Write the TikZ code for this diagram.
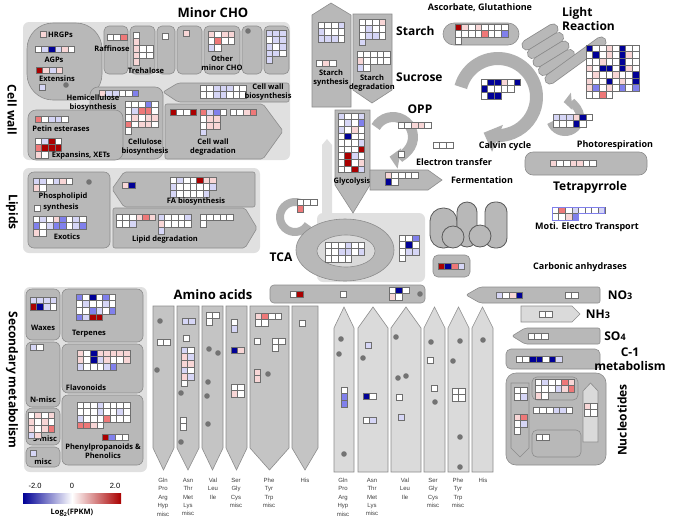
\documentclass[tikz,border=0pt]{standalone}
\usepackage{fontspec}
\setmainfont{Open Sans}
\newfontfamily\aafont{Liberation Sans}
\usetikzlibrary{arrows.meta}

\definecolor{regionbg}{RGB}{224,224,224}
\definecolor{boxfill}{RGB}{184,184,184}
\definecolor{boxline}{RGB}{140,140,140}
\definecolor{ringgray}{RGB}{176,176,176}
\definecolor{aafill}{RGB}{196,196,196}
\definecolor{aalight}{RGB}{218,218,218}
\definecolor{dotgray}{RGB}{115,115,115}
\definecolor{cellline}{RGB}{110,110,110}
\definecolor{hw}{RGB}{255,255,255}
\definecolor{hb1}{RGB}{214,214,246}
\definecolor{hb2}{RGB}{128,128,236}
\definecolor{hb3}{RGB}{0,0,150}
\definecolor{hr1}{RGB}{248,214,214}
\definecolor{hr2}{RGB}{238,120,120}
\definecolor{hr3}{RGB}{170,0,0}

\tikzset{
  region/.style={fill=regionbg, draw=none, rounded corners=6pt},
  box/.style={fill=boxfill, draw=boxline, line width=.6pt, rounded corners=5pt},
  pent/.style={fill=boxfill, draw=boxline, line width=.6pt},
  pentl/.style={fill=aalight, draw=boxline, line width=.6pt},
  cell/.style={draw=cellline, line width=.5pt},
  ring/.style={draw=ringgray},
  slbl/.style={font=\bfseries\fontsize{7.5}{8.5}\selectfont, align=center, inner sep=0pt},
  mlbl/.style={font=\bfseries\fontsize{9}{10}\selectfont, align=center, inner sep=0pt},
  hlbl/.style={font=\bfseries\fontsize{12}{14}\selectfont, align=center, inner sep=0pt},
  blbl/.style={font=\bfseries\fontsize{13}{15}\selectfont, align=center, inner sep=0pt},
  aalbl/.style={font=\aafont\fontsize{6}{8.4}\selectfont, text=black!75, align=center, anchor=north, inner sep=0pt}
}

% heat map cells: x, y, rows
\newcommand\hm[3]{%
  \foreach \hrow [count=\hj from 0] in {#3} {%
    \foreach \hc [count=\hi from 0] in \hrow {%
      \draw[cell, fill=\hc] ({#1+\hi*6.6},{#2+\hj*6.6}) rectangle ++(6.6,6.6);
    }%
  }%
}
\newcommand\gdot[2]{\fill[dotgray] (#1,#2) circle (2.8);}

\begin{document}
\begin{tikzpicture}[x=1pt,y=-1pt]
   \useasboundingbox (0,0) rectangle (675,523);
   \fill[white] (0,0) rectangle (675,523);
   %cell wall
   \fill[region] (23,22) rectangle (290,160);
   \node[hlbl, rotate=-90] (tCW) at (12,110) {Cell wall};
   \draw[box, rounded corners=26pt] (27,23) rectangle (102,100);
   \hm{40}{31}{{hr1}}
   \node[slbl, anchor=west] (tHRGP) at (48,35) {HRGPs};
   \hm{35}{46}{{hw,hb1,hb3,hb1,hr1,hw}}
   \node[slbl] (tAGP) at (54,60) {AGPs};
   \hm{36}{67}{{hr3,hr1,hb1,hr1}}
   \node[slbl] (tExt) at (57,79) {Extensins};
   \hm{39}{84}{{hb1}}
   \gdot{66}{85}
   %minor cho
   \node[blbl] (tMinor) at (213,13) {Minor CHO};
   \foreach \bx/\bw in {104/24,130/25,157/18,177/25,204/36,242/20,264/25}
      \draw[box] (\bx,26) rectangle ++(\bw,48);
   \hm{107}{34}{{hw,hw,hr2}}
   \node[slbl] (tRaff) at (112,49) {Raffinose};
   \hm{133}{32}{{hw},{hr1},{hr1,hw,hw},{hr1,hw,hw},{hr1}}
   \node[slbl] (tTreh) at (146,71) {Trehalose};
   \hm{162}{33}{{hw}}
   \hm{183}{30}{{hr1}}
   \hm{208}{31}{{hr1,hw,hr1,hr1},{hw,hr2,hw,hw},{hb1,hw}}
   \node[slbl] (tOther) at (222,63) {Other\\minor CHO};
   \gdot{248}{31}
   \hm{266}{30}{{hb1,hb1,hb1},{hw,hb1,hb1},{hb1,hw,hb1},{hb1,hb1,hw},{hb1}}
   %cell wall arrows
   \draw[pent, rounded corners=2pt] (163,92) -- (178,83) -- (289,83) -- (289,102) -- (178,102) -- cycle;
   \hm{200}{85}{{hw,hw,hb1,hb1,hb1,hw,hw},{hw,hw,hb1,hb1,hw,hw,hw}}
   \node[slbl] (tCWB) at (268,92) {Cell wall\\biosynthesis};
   \draw[pent, rounded corners=2pt] (165,104) -- (263,104) -- (283,131) -- (263,159) -- (165,159) -- cycle;
   \hm{170}{109}{{hr3,hw,hw,hr3}}
   \hm{200}{109}{{hr2,hb1,hb2,hw},{hw,hr1,hr1},{hw,hr1,hr1},{hb1}}
   \hm{230}{109}{{hw,hw,hr1,hr2}}
   \node[slbl] (tCWD) at (213,147) {Cell wall\\degradation};
   \draw[box, rounded corners=8pt] (90,87) rectangle (163,159);
   \hm{99}{90}{{hr1,hb1,hb1,hw,hw,hb2}}
   \draw[box, rounded corners=8pt] (28,110) rectangle (123,160);
   \node[slbl] (tHemi) at (93,103) {Hemicellulose\\biosynthesis};
   \hm{125}{101}{{hw,hw,hw,hb2,hw},{hw,hb1,hr2,hr2,hw},{hw,hr1,hw,hr1,hr1},{hr2,hw,hr1,hr1,hw},{hw}}
   \node[slbl] (tCell) at (145,147) {Cellulose\\biosynthesis};
   \hm{35}{116}{{hr2,hw,hb1,hb1,hw}}
   \node[slbl] (tPetin) at (61,129) {Petin esterases};
   \hm{35}{138}{{hw,hb1,hr3,hw},{hr2,hr3,hr3,hr3},{hr1,hw}}
   \node[slbl] (tExp) at (81,156) {Expansins, XETs};
   %lipids
   \fill[region] (23,168) rectangle (260,253);
   \node[hlbl, rotate=-90] (tLip) at (12,212) {Lipids};
   \draw[box, rounded corners=6pt] (28,172) rectangle (110,248);
   \hm{33}{178}{{hb1,hb1,hw,hb1,hr1,hw},{hr1,hw}}
   \gdot{89}{182}
   \node[slbl] (tPhos) at (63,197) {Phospholipid};
   \hm{34}{205}{{hw}}
   \node[slbl] (tSyn) at (61,208) {synthesis};
   \hm{33}{216}{{hw,hb1,hw,hr1,hb2,hw,hb1,hw},{hb2,hw,hb1,hb2,hb2,hw,hb1,hb2},{hr1,hw}}
   \node[slbl] (tExo) at (67,237) {Exotics};
   \draw[pent, rounded corners=2pt] (112,189) -- (124,172) -- (255,172) -- (255,207) -- (124,207) -- cycle;
   \hm{122}{182}{{hr1,hb3}}
   \hm{170}{177}{{hw,hb1,hw,hw,hr3,hr1,hr1},{hb1,hw,hw,hw,hw,hw,hb1},{hb1,hw,hw,hw,hw,hb1}}
   \node[slbl] (tFA) at (196,202) {FA biosynthesis};
   \draw[pent, rounded corners=2pt] (113,208) -- (245,208) -- (257,228) -- (245,248) -- (113,248) -- cycle;
   \hm{116}{214}{{hw,hw,hw,hr1,hr2,hr1},{hw,hw,hb1}}
   \hm{158}{214}{{hb1,hw,hw,hw,hb1},{hr1,hw,hw,hw,hw},{hb1}}
   \hm{200}{214}{{hw,hw,hw,hw,hw},{hw}}
   \node[slbl] (tLD) at (165,240) {Lipid degradation};
   %secondary metabolism
   \fill[region] (24,287) rectangle (147,472);
   \node[hlbl, rotate=-90] (tSec) at (12,380) {Secondary metabolism};
   \draw[box, rounded corners=6pt] (26,289) rectangle (60,340);
   \hm{30}{297}{{hb1,hb1,hb1,hb1},{hr3,hb3,hb1,hw}}
   \node[slbl] (tWax) at (43,328) {Waxes};
   \draw[box, rounded corners=6pt] (62,289) rectangle (143,342);
   \hm{76}{294}{{hb2,hw,hb3,hw,hb2,hw},{hw,hb1,hw,hw,hb1,hw},{hw,hw,hb2,hb1,hw,hb2},{hb2,hb1,hr3,hr3}}
   \node[slbl] (tTerp) at (89,334) {Terpenes};
   \draw[box, rounded corners=6pt] (26,342) rectangle (60,407);
   \hm{30}{344}{{hb1,hw}}
   \node[slbl] (tNm) at (43,400) {N-misc};
   \draw[box, rounded corners=6pt] (62,344) rectangle (143,393);
   \hm{77}{350}{{hr1,hw,hb3,hr1,hr1,hr1,hr1,hr1},{hr1,hw,hb3,hb1,hr1,hw,hw,hr1},{hb1,hw,hw,hw,hb1,hb2}}
   \node[slbl] (tFlav) at (86,388) {Flavonoids};
   \draw[box, rounded corners=6pt] (26,408) rectangle (60,445);
   \node[slbl] (tSm) at (45,439) {S-misc};
   \hm{28}{412}{{hw,hr1,hw,hr1},{hr1,hw,hr1,hw},{hr1,hw,hr1,hr2},{hb1,hr1}}
   \draw[box, rounded corners=6pt] (62,395) rectangle (143,465);
   \hm{77}{402}{{hw,hw,hw,hb1,hw,hw,hw,hw},{hw,hw,hw,hb1,hw,hw,hb1,hw},{hb1,hw,hw,hw,hr2,hw,hw,hw},{hr2,hr2,hr1,hw}}
   \hm{102}{434}{{hr3,hb2,hw,hw}}
   \node[slbl] (tPhen) at (103,451) {Phenylpropanoids \&\\Phenolics};
   \draw[box, rounded corners=5pt] (26,447) rectangle (60,467);
   \hm{30}{450}{{hb1}}
   \node[slbl] (tMisc) at (43,462) {misc};
   %escala
   \shade[left color=hb3, right color=hr3, middle color=white] (23,493) rectangle (121,503);
   \node[font=\aafont\fontsize{7.5}{8}\selectfont] (tm2) at (35,486) {-2.0};
   \node[font=\aafont\fontsize{7.5}{8}\selectfont] (t0) at (72,486) {0};
   \node[font=\aafont\fontsize{7.5}{8}\selectfont] (tp2) at (115,486) {2.0};
   \node[slbl] (tLog) at (72,513) {Log\textsubscript{2}(FPKM)};
   %amino acids
   \node[blbl] (tAA) at (213,295) {Amino acids};
   \foreach \xa/\xb in {153/174,177/199,202/223,226/247,250/289,292/318}
      \draw[pent, fill=aafill] (\xa,306) -- (\xb,306) -- (\xb,448) -- ({(\xa+\xb)/2},470) -- (\xa,448) -- cycle;
   \gdot{160}{321} \gdot{157}{370}
   \hm{157}{339}{{hw,hw}}
   \hm{182}{318}{{hb1,hb1}}
   \hm{183}{335}{{hw}}
   \hm{181}{347}{{hb1,hw},{hr1,hb1},{hr1,hr1},{hb1,hw},{hr1,hb1},{hw}}
   \hm{180}{417}{{hw},{hw}}
   \gdot{181}{393} \gdot{181}{442}
   \hm{206}{312}{{hw,hw},{hw}}
   \gdot{209}{349} \gdot{218}{353} \gdot{208}{382} \gdot{207}{396} \gdot{208}{424}
   \hm{231}{319}{{hw},{hb1}}
   \hm{231}{347}{{hb3,hr1}}
   \hm{231}{384}{{hw,hw},{hr1,hw}}
   \hm{255}{313}{{hr1,hr2,hw,hw},{hw,hw}}
   \hm{254}{338}{{hw}}
   \hm{272}{338}{{hw,hw},{hw}}
   \hm{254}{369}{{hr1},{hr1}}
   \gdot{268}{374}
   \hm{299}{320}{{hw}}
   \foreach \xa/\xb in {334/354,358/388,391/421,424/445,448/469,472/493}
      \draw[pentl] (\xa,328) -- ({(\xa+\xb)/2},307) -- (\xb,328) -- (\xb,472) -- (\xa,472) -- cycle;
   \gdot{341}{339} \gdot{339}{354} \gdot{344}{454}
   \hm{341}{387}{{hw},{hb2},{hb2}}
   \hm{365}{342}{{hb1}}
   \gdot{363}{358}
   \hm{363}{393}{{hb3,hw}}
   \hm{363}{417}{{hw,hb1}}
   \gdot{396}{337} \gdot{398}{378} \gdot{406}{376}
   \hm{396}{394}{{hw}}
   \hm{398}{414}{{hb1}}
   \gdot{431}{342} \gdot{435}{402}
   \hm{427}{357}{{hw}}
   \hm{431}{385}{{hw}}
   \gdot{460}{341} \gdot{453}{361} \gdot{460}{437} \gdot{460}{467}
   \hm{452}{388}{{hw,hw},{hw,hw}}
   \gdot{483}{340}
   \foreach \lx/\lt [count=\k] in {163/{Gln\\Pro\\Arg\\Hyp\\misc},188/{Asn\\Thr\\Met\\Lys\\misc},213/{Val\\Leu\\Ile},236/{Ser\\Gly\\Cys\\misc},269/{Phe\\Tyr\\Trp\\misc},305/{His},343/{Gln\\Pro\\Arg\\Hyp\\misc},372/{Asn\\Thr\\Met\\Lys\\misc},405/{Val\\Leu\\Ile},433/{Ser\\Gly\\Cys\\misc},458/{Phe\\Tyr\\Trp\\misc},483/{His}}
      \node[aalbl] (aa\k) at (\lx,478) {\lt};
   \draw[box, rounded corners=4pt] (270,285) rectangle (425,303);
   \hm{290}{291}{{hw,hr3}}
   \hm{340}{291}{{hw}}
   \hm{389}{287}{{hw,hb3,hw},{hr1,hw}}
   \gdot{420}{294}
   %nitrogen, sulfur, c-1
   \draw[pent, rounded corners=2pt] (466,295) -- (480,287) -- (600,287) -- (600,303) -- (480,303) -- cycle;
   \hm{496}{292}{{hb1,hw,hr1,hb3}}
   \hm{565}{292}{{hw,hw}}
   \node[hlbl] (tNO) at (620,295) {NO{\fontsize{9}{9}\selectfont 3}};
   \draw[pentl] (521,306) -- (572,306) -- (580,314) -- (572,322) -- (521,322) -- cycle;
   \hm{539}{311}{{hw,hw}}
   \node[hlbl] (tNH) at (598,314) {NH{\fontsize{9}{9}\selectfont 3}};
   \draw[pent, rounded corners=2pt] (512,336) -- (525,328) -- (600,328) -- (600,344) -- (525,344) -- cycle;
   \hm{528}{333}{{hw,hw,hw}}
   \node[hlbl] (tSO) at (615,336) {SO{\fontsize{9}{9}\selectfont 4}};
   \draw[box] (506,349) rectangle (600,369);
   \hm{516}{356}{{hw,hw,hb3,hb3,hw,hb3,hb1}}
   \node[hlbl] (tC1) at (630,359) {C-1\\metabolism};
   %nucleotides
   \draw[box, rounded corners=10pt] (506,373) rectangle (606,465);
   \draw[pent] (511,383) -- (529,383) -- (529,448) -- (520,457) -- (511,448) -- cycle;
   \hm{514}{387}{{hw,hw},{hw,hb1}}
   \hm{514}{414}{{hr1,hr2},{hw,hb1},{hw}}
   \draw[box, rounded corners=5pt] (532,377) rectangle (578,400);
   \hm{535}{379}{{hw,hb1,hw,hw,hr2,hr1},{hw,hw,hw,hb1,hr1,hr2},{hr1,hw}}
   \hm{533}{407}{{hw,hw,hw,hb1,hb1,hw}}
   \draw[box, rounded corners=5pt] (532,430) rectangle (581,457);
   \hm{536}{434}{{hw,hw}}
   \draw[pentl] (583,391) -- (590.5,383) -- (598,391) -- (598,442) -- (583,442) -- cycle;
   \hm{584}{403}{{hr1,hw},{hw,hw}}
   \node[hlbl, rotate=90] (tNuc) at (622,420) {Nucleotides};
   %starch, sucrose
   \draw[pent] (312,15) -- (331,3) -- (351,15) -- (351,107) -- (312,107) -- cycle;
   \hm{318}{22}{{hw,hw,hw,hb1},{hb1,hw,hw,hw},{hb1,hb1,hb1,hw}}
   \hm{316}{60}{{hw,hr1,hw}}
   \node[slbl] (tSS) at (331,78) {Starch\\synthesis};
   \draw[pent] (353,14) -- (392,14) -- (392,90) -- (372,103) -- (353,90) -- cycle;
   \hm{359}{19}{{hw,hw,hw,hr1},{hw,hb1,hw,hw},{hw,hb1,hb1,hw},{hb1}}
   \hm{357}{51}{{hw,hw,hw,hw,hw},{hr1,hw,hw,hw,hw},{hb1,hw}}
   \node[slbl] (tSD) at (372,83) {Starch\\degradation};
   \node[hlbl, anchor=west] (tStarch) at (396,31) {Starch};
   \node[hlbl, anchor=west] (tSuc) at (396,77) {Sucrose};
   %ascorbate
   \node[mlbl] (tAsc) at (480,8) {Ascorbate, Glutathione};
   \draw[box, rounded corners=11pt] (443,23) rectangle (519,45);
   \hm{455}{24}{{hr3,hr1,hw,hr1,hw,hw,hw,hw},{hw,hw,hw,hw,hr2,hw,hw,hb2},{hw}}
   %light reaction
   \node[hlbl, anchor=west, align=left] (tLight) at (562,19) {Light\\Reaction};
   \foreach \k in {0,...,3} {
      \draw[boxline, line width=11pt, line cap=round] ({527+5.5*\k},{45+8.5*\k}) -- ++(26,-16);
      \draw[boxfill, line width=9.4pt, line cap=round] ({527+5.5*\k},{45+8.5*\k}) -- ++(26,-16);
   }
   \draw[boxline, line width=11pt, line cap=round] (550,79) -- (601,42);
   \draw[boxfill, line width=9.4pt, line cap=round] (550,79) -- (601,42);
   \hm{586}{45}{{hb3,hw,hw,hr1,hw,hb3,hw,hw},{hw,hb3,hw,hr1,hw,hb3,hr1,hw},{hw,hw,hr1,hw,hw,hb3,hw,hw},{hr1,hw,hb3,hb3,hw,hb3,hr1,hw},{hw,hr1,hw,hw,hr1,hw,hw,hb3},{hr1,hw,hw,hb3,hw,hr1,hw,hb3},{hr1,hb2,hw,hr1,hw,hb2,hw,hb2},{hw,hw,hr2,hw}}
   %calvin cycle
   \draw[ring, line width=13pt, -{Triangle[length=15pt,width=28pt]}] (498,97) ++(-165:38.5) arc[start angle=-165, end angle=112, radius=38.5];
   \hm{481}{79}{{hw,hb3,hb3,hr1,hw,hb3},{hb3,hw,hw,hw,hw},{hw,hb3,hb3}}
   \node[mlbl] (tCalvin) at (505,146) {Calvin cycle};
   %photorespiration
   \draw[ring, line width=8pt, -{Triangle[length=8pt,width=17pt]}] (565,117) ++(160:15) arc[start angle=160, end angle=-95, radius=15];
   \hm{553}{114}{{hb1,hb1,hb1,hr1,hb3,hw},{hw,hw,hw,hb3,hw}}
   \node[mlbl] (tPhoto) at (615,145) {Photorespiration};
   %opp
   \draw[ring, line width=10pt, -{Triangle[length=10pt,width=20pt]}] (393,137) ++(-150:20) arc[start angle=-150, end angle=100, radius=20];
   \node[hlbl] (tOPP) at (420,109) {OPP};
   \hm{398}{122}{{hw,hw,hr1,hr1,hw}}
   \hm{398}{151}{{hw}}
   \hm{433}{142}{{hw,hw,hw}}
   \node[mlbl] (tET) at (454,162) {Electron transfer};
   %tca
   \fill[regionbg] (322,215) -- (322,145) -- (327,139) -- (332,145) -- (332,215) -- cycle;
   \fill[region] (317,213) rectangle (425,282);
   \draw[ring, line width=8pt] (295,217) ++(-60:15) arc[start angle=-60, end angle=-330, radius=15];
   \hm{297}{199}{{hw,hw,hw},{hr2}}
   \draw[fill=boxfill, draw=boxline, line width=.6pt] (345,250) ellipse [x radius=49, y radius=31];
   \draw[fill=aalight, draw=boxline, line width=.6pt] (346,251) ellipse [x radius=29, y radius=16];
   \hm{325}{242}{{hw,hw,hw,hb1,hw,hw},{hw,hw,hb1,hb1,hw,hb1},{hw,hw,hw,hw}}
   \hm{399}{235}{{hw,hw,hb2},{hw,hb3,hw},{hw,hb1,hb1},{hw}}
   \node[hlbl] (tTCA) at (281,257) {TCA};
   %glycolysis, fermentation
   \draw[pent] (335,110) -- (370,110) -- (370,185) -- (353,213) -- (335,185) -- cycle;
   \hm{338}{113}{{hb1,hw,hw,hb1},{hw,hb1,hw,hb2},{hb1,hw,hr1,hw},{hw,hb3,hw,hw},{hw,hw,hw,hb1},{hw,hw,hw,hr3},{hw,hr3,hb1,hw},{hw,hr3,hw,hr1},{hw,hw,hr3,hb1}}
   \node[slbl] (tGly) at (352,182) {Glycolysis};
   \draw[pent] (370,170) -- (428,170) -- (442,180) -- (428,190) -- (370,190) -- cycle;
   \hm{385}{172}{{hr1,hw,hw,hw,hw},{hb3,hw}}
   \node[mlbl] (tFerm) at (482,180) {Fermentation};
   %tetrapyrrole
   \draw[box, rounded corners=8pt] (525,152) rectangle (647,175);
   \hm{550}{160}{{hr1,hw,hw,hr1,hr1,hw,hw}}
   \node[hlbl] (tTetra) at (590,187) {Tetrapyrrole};
   %mitochondria
   \draw[fill=boxfill, draw=black!65, line width=.8pt, rounded corners=13pt] (430,208) rectangle (457,248);
   \draw[fill=boxfill, draw=black!65, line width=.8pt, rounded corners=10pt] (457,202) rectangle (477,247);
   \draw[fill=boxfill, draw=black!65, line width=.8pt, rounded corners=10pt] (485,202) rectangle (507,248);
   \draw[fill=boxfill, draw=black!65, line width=.8pt] (453,237) circle (11);
   \draw[fill=boxfill, draw=black!65, line width=.8pt] (480,236) circle (11);
   \hm{552}{207}{{hw,hr2,hw,hb1,hw,hw,hw,hb1},{hw,hw,hr1,hb2}}
   \draw[hb2, line width=.9pt] (552,207) -- (604.8,207) -- (604.8,213.6) -- (578.4,213.6) -- (578.4,220.2) -- (552,220.2) -- cycle;
   \node[mlbl] (tMoti) at (587,227) {Moti. Electro Transport};
   %carbonic anhydrases
   \draw[box, rounded corners=5pt] (433,255) rectangle (470,277);
   \hm{438}{263}{{hr3,hb3,hr2,hb1}}
   \node[mlbl] (tCA) at (580,267) {Carbonic anhydrases};
\end{tikzpicture}
\end{document}
